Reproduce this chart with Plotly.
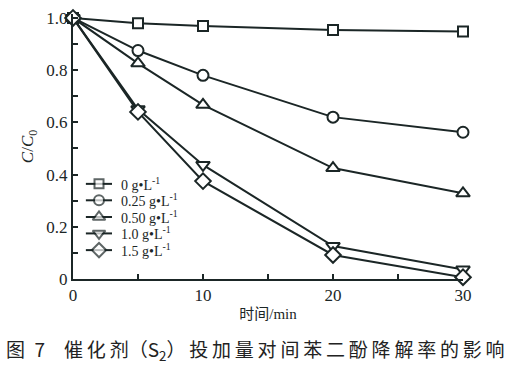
import plotly.graph_objects as go

time_min = [0, 5, 10, 20, 30]
labels = ["0 g•L<sup>-1</sup>", "0.25 g•L<sup>-1</sup>", "0.50 g•L<sup>-1</sup>",
          "1.0 g•L<sup>-1</sup>", "1.5 g•L<sup>-1</sup>"]
c_0 = [1.0, 0.980, 0.969, 0.954, 0.948]
c_025 = [1.0, 0.875, 0.780, 0.620, 0.562]
c_050 = [1.0, 0.826, 0.667, 0.425, 0.328]
c_10 = [1.0, 0.650, 0.437, 0.126, 0.036]
c_15 = [1.0, 0.640, 0.375, 0.092, 0.007]
series = [c_0, c_025, c_050, c_10, c_15]
symbols = ["square", "circle", "triangle-up", "triangle-down", "diamond"]
sizes = [10, 11, 12, 12, 12]

col = "#1b2626"
serif = "Liberation Serif, Noto Sans CJK SC"
fig = go.Figure()
for lab, ys, sym, sz in zip(labels, series, symbols, sizes):
    fig.add_trace(go.Scatter(
        x=time_min, y=ys, name=lab, mode="lines+markers", showlegend=False,
        line=dict(color=col, width=2),
        marker=dict(symbol=sym, size=sz, color="white", line=dict(color=col, width=2)),
        cliponaxis=False,
    ))

# compact legend on an overlay axis spanning the plot area (fractions 0..1)
leg_rows = [0.359, 0.297, 0.234, 0.172, 0.109]
leg_x0, leg_x1, leg_xm, leg_tx = 0.033, 0.100, 0.0667, 0.118
for lab, sym, sz, ly in zip(labels, symbols, sizes, leg_rows):
    fig.add_trace(go.Scatter(
        x=[leg_x0, leg_xm, leg_x1], y=[ly, ly, ly], xaxis="x2", yaxis="y2",
        mode="lines+markers", showlegend=False, hoverinfo="skip",
        line=dict(color=col, width=2),
        marker=dict(symbol=sym, size=[0, sz - 1, 0], color="white",
                    line=dict(color=col, width=[0, 2, 0])),
        cliponaxis=False,
    ))
    fig.add_annotation(text=lab, xref="x2", yref="y2", x=leg_tx, y=ly,
                       xanchor="left", yanchor="middle", showarrow=False,
                       font=dict(family=serif, size=14, color=col))

fig.update_layout(
    width=510, height=377,
    margin=dict(l=73, r=47, t=14, b=98),
    plot_bgcolor="white", paper_bgcolor="white",
    font=dict(family=serif, size=17, color=col),
    showlegend=False,
    xaxis=dict(range=[0, 30], tickvals=[0, 10, 20, 30], ticks="inside", ticklen=5,
               tickwidth=1.5, tickcolor=col, showline=True, linecolor=col, linewidth=2,
               showgrid=False, zeroline=False, automargin=False,
               tickfont=dict(family=serif, size=17, color=col),
               minor=dict(tickvals=[5, 15, 25], ticks="inside", ticklen=5, tickcolor=col),
               title=dict(text="时间/min", standoff=4,
                          font=dict(family=serif, size=15, color=col))),
    yaxis=dict(range=[0, 1.015], tickvals=[0, 0.2, 0.4, 0.6, 0.8, 1.0],
               ticktext=["0", "0.2", "0.4", "0.6", "0.8", "1.0"],
               ticks="inside", ticklen=5, tickwidth=1.5, tickcolor=col,
               showline=True, linecolor=col, linewidth=2, showgrid=False, zeroline=False,
               automargin=False,
               tickfont=dict(family=serif, size=17, color=col),
               minor=dict(tickvals=[0.1, 0.3, 0.5, 0.7, 0.9], ticks="inside", ticklen=5, tickcolor=col),
               title=dict(text="<i>C</i>/<i>C</i><sub>0</sub>", standoff=8,
                          font=dict(family=serif, size=17, color=col))),
    xaxis2=dict(overlaying="x", range=[0, 1], visible=False, fixedrange=True),
    yaxis2=dict(overlaying="y", range=[0, 1], visible=False, fixedrange=True),
)

ts = "\u2009"
caption = ("图\u20027\u3000" + ts.join("催化剂") + "（S<sub>2</sub>）" + ts
           + ts.join("投加量对间苯二酚降解率的影响"))
fig.add_annotation(
    text=caption,
    xref="paper", yref="paper", x=-0.176, y=-0.268, xanchor="left", yanchor="middle",
    showarrow=False, font=dict(family="Noto Sans CJK SC", size=19, color="#222"),
)

fig.write_html("out.html", post_script="document.body.style.margin='0';",
               config={"displayModeBar": False})
